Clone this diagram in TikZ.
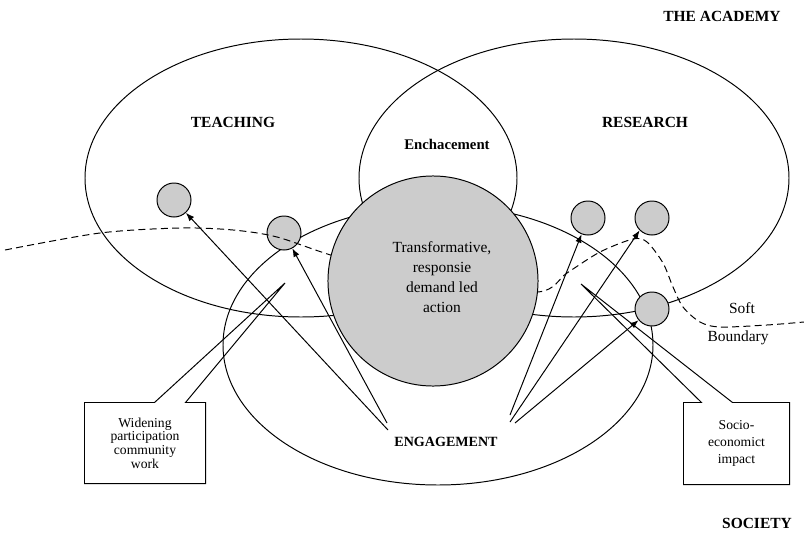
\documentclass[tikz,border=0pt]{standalone}
\usepackage{fontspec}
\setmainfont{Liberation Serif}
\usepackage{tikz}
\usetikzlibrary{arrows.meta}
\tikzset{
    blob/.style={shape=circle, draw=black, fill=gray!40, minimum size=0.85cm, inner sep=0pt},
    tag/.style={font=\fontsize{11}{13}\selectfont\bfseries},
    plain/.style={font=\fontsize{11}{13}\selectfont},
    note/.style={align=center, inner sep=0pt, font=\fontsize{9.7}{9.7}\selectfont}}

\begin{document}
\begin{tikzpicture}[x=0.025cm, y=-0.025cm, line width=0.7pt, >={Latex[length=6pt,width=4.5pt]}]
                    \useasboundingbox (0,0) rectangle (804,534);

                    \draw (301,178) ellipse [x radius=216, y radius=139];
                    \draw (574,178) ellipse [x radius=215, y radius=139];
                    \draw (438,345) ellipse [x radius=215, y radius=140];

                    \node[blob] (T1) at (174,200) {};
                    \node[blob] (T2) at (284,233) {};
                    \node[blob] (R1) at (588,218) {};
                    \node[blob] (R2) at (652,218) {};
                    \node[blob] (R3) at (652,309) {};

                    \draw[dash pattern=on 5pt off 3pt] plot[smooth] coordinates {(5,250) (100,233) (180,228) (233,230) (277,237) (337,257) (440,285) (538,292) (567,273) (600,252) (633,239) (647,242) (663,263) (673,287) (683,307) (700,322) (720,327) (767,325) (804,322)};

                    \node[shape=circle, draw=black, fill=gray!40, minimum size=5.25cm, inner sep=0pt,
                        label={[align=center, font=\fontsize{11}{14.2}\selectfont, xshift=0.225cm, yshift=0.09cm]center:Transformative,\\responsie\\demand led\\action}] (C) at (433,281) {};

                    \coordinate (a1) at (388,430);
                    \coordinate (a2) at (387,423);
                    \coordinate (b1) at (510,415);
                    \coordinate (b2) at (510,422);
                    \coordinate (b3) at (515,423);

                    \draw[->] (a1) -- (T1);
                    \draw[->] (a2) -- (T2);
                    \draw[->] (b1) -- (R1);
                    \draw[->] (b2) -- (R2.south west);
                    \draw[->] (b3) -- (R3);

                    \node[note, minimum width=3cm, minimum height=2cm] (W) at (145,443) {Widening\\participation\\community\\work};
                    \coordinate (Wp) at (285,283);
                    \draw (W.north west) -- ([xshift=1.75cm]W.north west) -- (Wp) -- ([xshift=2.525cm]W.north west) -- (W.north east) -- (W.south east) -- (W.south west) -- cycle;

                    \node[note, minimum width=2.625cm, minimum height=2.025cm, font=\fontsize{9.7}{12}\selectfont] (S) at (736.5,443.5) {Socio-\\economict\\impact};
                    \coordinate (Sp) at (581,284);
                    \draw (S.north west) -- ([xshift=0.45cm]S.north west) -- (Sp) -- ([xshift=1.225cm]S.north west) -- (S.north east) -- (S.south east) -- (S.south west) -- cycle;

                    \node[tag] (Th) at (233,122) {TEACHING};
                    \node[tag] (Re) at (645,122) {RESEARCH};
                    \node[tag, font=\fontsize{10.5}{13}\selectfont\bfseries] (En) at (447,144) {Enchacement};
                    \node[tag, font=\fontsize{10}{13}\selectfont\bfseries] (Eg) at (446,442) {ENGAGEMENT};
                    \node[tag] (Ac) at (722,16) {THE ACADEMY};
                    \node[tag] (So) at (757,523) {SOCIETY};
                    \node[plain] (Sf) at (742,308) {Soft};
                    \node[plain] (Bd) at (738,338) {Boundary};

                \end{tikzpicture}
\end{document}
